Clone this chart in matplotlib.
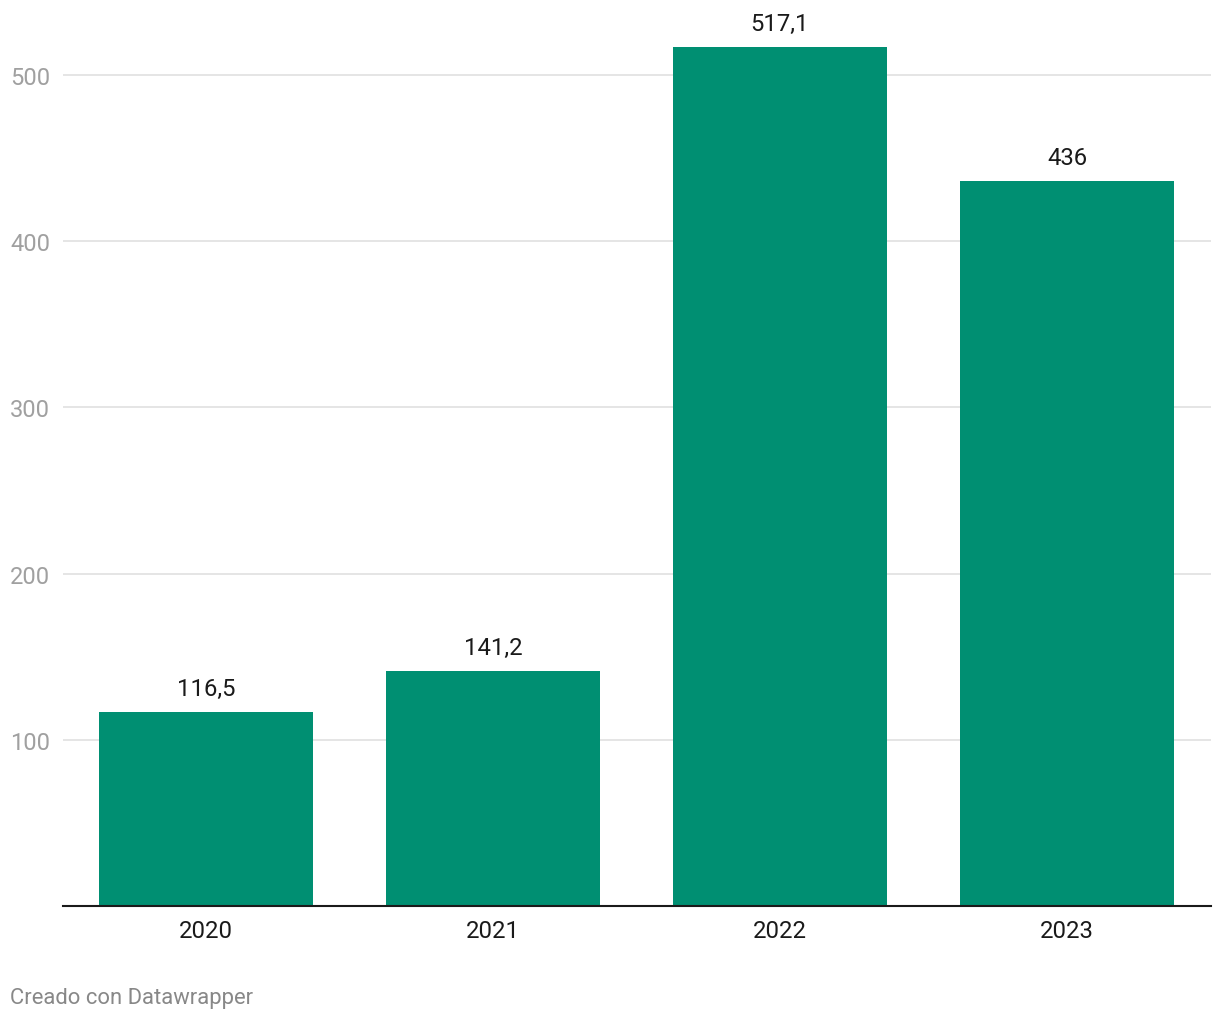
import matplotlib
matplotlib.use("Agg")
import matplotlib.pyplot as plt

plt.rcParams['font.family'] = ['Roboto', 'DejaVu Sans']

years = ["2020", "2021", "2022", "2023"]
values = [116.5, 141.2, 517.1, 436]
labels = ["116,5", "141,2", "517,1", "436"]
yticks = [100, 200, 300, 400, 500]

W, H = 1220, 1020
fig = plt.figure(figsize=(W / 100, H / 100), dpi=100)
left, right = 62.5, 1210.5
bottom, top = 907, 31
ax = fig.add_axes([left / W, 1 - bottom / H, (right - left) / W, (bottom - top) / H])

x = list(range(len(years)))
ax.bar(x, values, width=0.745, color="#008f72", zorder=2)
ax.set_xlim(-0.5, 3.5)
ax.set_ylim(0, (bottom - top) / 1.662)

for xi, v, lab in zip(x, values, labels):
    ax.annotate(lab, (xi, v), xytext=(0, 12), textcoords="offset pixels",
                ha="center", va="bottom", fontsize=17.2, color="#1a1a1a",
                annotation_clip=False)

ax.set_yticks(yticks)
ax.set_yticklabels([str(t) for t in yticks])
ax.tick_params(axis="y", length=0, pad=52.5 * 0.72, labelsize=17, labelcolor="#a0a0a0")
for lab in ax.get_yticklabels():
    lab.set_horizontalalignment("left")
ax.grid(axis="y", color="#e0e0e0", linewidth=1.2, zorder=0)

ax.set_xticks(x)
ax.set_xticklabels(years)
ax.tick_params(axis="x", length=0, pad=9.5, labelsize=17.2, labelcolor="#1a1a1a")

for s in ["left", "right", "top"]:
    ax.spines[s].set_visible(False)
ax.spines["bottom"].set_color("#1a1a1a")
ax.spines["bottom"].set_linewidth(1.5)
ax.spines["bottom"].set_zorder(3)

fig.text(10 / W, 1 - 999 / H, "Creado con Datawrapper", ha="left", va="center",
         fontsize=15.8, color="#888888")

fig.savefig("out.png", dpi=100, facecolor="white")
